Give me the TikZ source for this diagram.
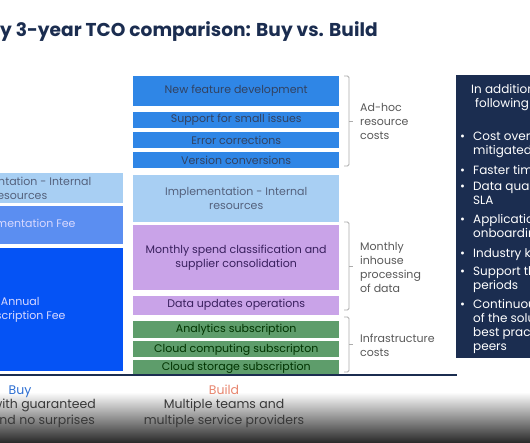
\documentclass[tikz,border=0pt]{standalone}
\usepackage{fontspec}
\setmainfont{Poppins}
\usetikzlibrary{positioning}

\definecolor{navy}{HTML}{1B2D50}
\definecolor{midblue}{HTML}{2F86E6}
\definecolor{paleblue}{HTML}{A8CFF3}
\definecolor{lilac}{HTML}{C9A3E8}
\definecolor{grn}{HTML}{5E9D6B}
\definecolor{feeblue}{HTML}{5B8EF1}
\definecolor{subblue}{HTML}{0553F5}
\definecolor{buyblue}{HTML}{2E6FD2}
\definecolor{buildred}{HTML}{E8866F}

\tikzset{
  cell/.style={anchor=north west, inner sep=0pt, align=center, minimum width=206pt,
    font=\fontsize{11}{14}\selectfont},
  bluecell/.style={cell, fill=midblue, text=navy!90},
  palecell/.style={cell, fill=paleblue, text=navy!75},
  lilaccell/.style={cell, fill=lilac, text=navy!70!violet},
  grncell/.style={cell, fill=grn, text=black!80!green},
  brk/.style={draw=gray!65, line width=0.8pt, rounded corners=1.5pt},
  brklbl/.style={anchor=west, align=left, text=black!65, inner sep=0pt,
    font=\fontsize{11}{14}\selectfont},
  bul/.style={anchor=base west, inner sep=0pt, text=white, font=\fontsize{12}{14}\selectfont},
  foot/.style={inner sep=0pt, text=black!78, font=\fontsize{12.5}{15}\selectfont},
}

\begin{document}
\begin{tikzpicture}[x=1pt, y=-1pt]
  \clip (0,0) rectangle (530,442);
  \fill[white] (0,0) rectangle (530,442);

  % title
  \node[anchor=base west, inner sep=0pt, text=navy, font=\fontsize{18.6}{22}\selectfont\bfseries]
    (title) at (0,36) {y 3-year TCO comparison: Buy vs. Build};

  % build column
  \node[bluecell, minimum height=30pt] (nfd) at (133,76) {New feature development};
  \node[bluecell, minimum height=16pt, below right=5pt and 0pt of nfd.south west] (sup) {Support for small issues};
  \node[bluecell, minimum height=16pt, below right=4pt and 0pt of sup.south west] (err) {Error corrections};
  \node[bluecell, minimum height=16pt, below right=4pt and 0pt of err.south west] (ver) {Version conversions};
  \node[palecell, minimum height=47pt, below right=6pt and 0pt of ver.south west] (impB) {Implementation - Internal\\resources};
  \node[lilaccell, minimum height=65pt, below right=3pt and 0pt of impB.south west] (mon) {Monthly spend classification and\\supplier consolidation};
  \node[lilaccell, minimum height=19pt, below right=5pt and 0pt of mon.south west] (dat) {Data updates operations};
  \node[grncell, minimum height=17pt, below right=6pt and 0pt of dat.south west] (ana) {Analytics subscription};
  \node[grncell, minimum height=16pt, below right=3pt and 0pt of ana.south west] (ccs) {Cloud computing subscripton};
  \node[grncell, minimum height=15pt, below right=2pt and 0pt of ccs.south west] (cst) {Cloud storage subscription};

  % buy column
  \node[palecell, minimum height=30pt] (impA) at (-83,173) {Implementation - Internal\\resources};
  \node[cell, fill=feeblue, text=white!85!blue, minimum height=38pt, below right=2pt and 0pt of impA.south west] (fee) {Implementation Fee};
  \node[cell, fill=subblue, text=white!85!blue, minimum height=123pt, below right=4pt and 0pt of fee.south west] (sub) {Annual\\Subscription Fee};

  % braces
  \foreach \t/\b in {76/166, 222/310, 317/372}{
    \pgfmathsetmacro\m{(\t+\b)/2}
    \draw[brk] (344,\t) -- (349,\t) -- (349,\b) -- (344,\b);
    \draw[brk] (349,\m) -- (353,\m);
  }
  \node[brklbl] (adhoc) at (360,121) {Ad-hoc\\resource\\costs};
  \node[brklbl] (inhouse) at (360,267) {Monthly\\inhouse\\processing\\of data};
  \node[brklbl] (infra) at (360,345) {Infrastructure\\costs};

  % panel
  \node[anchor=north west, fill=navy, minimum width=90pt, minimum height=283pt, inner sep=0pt] (panel) at (456,75) {};
  \node[bul] (hd1) at (471,93) {In addition to};
  \node[bul] (hd2) at (475,107) {following};
  \foreach \y/\txt in {140/Cost overruns, 154/mitigated, 174/Faster time, 190/Data quality,
      204/SLA, 223/Application, 237/onboarding, 257/Industry knowledge, 275/Support through,
      289/periods, 308/Continuous, 322/of the solution, 336/best practices, 350/peers}
    \node[bul] at (473,\y) {\txt};
  \foreach \y in {140,174,190,223,257,275,308}
    \node[bul] at (460,\y) {•};

  % base line and footer
  \coordinate (l0) at (0,375);
  \coordinate (l1) at (457,375);
  \draw[navy, line width=1.5pt] (l0) -- (l1);
  \shade[top color=white, middle color=black!14, bottom color=black!83] (0,392) rectangle (530,442);
  \node[foot, anchor=base, text=buyblue] (buy) at (20,394) {Buy};
  \node[foot, anchor=base east] (buy1) at (96,408) {with guaranteed};
  \node[foot, anchor=base east] (buy2) at (95,424) {and no surprises};
  \node[foot, anchor=base, text=buildred] (build) at (224,394) {Build};
  \node[foot, anchor=base] (build1) at (224,408) {Multiple teams and};
  \node[foot, anchor=base] (build2) at (224,424) {multiple service providers};
\end{tikzpicture}
\end{document}
